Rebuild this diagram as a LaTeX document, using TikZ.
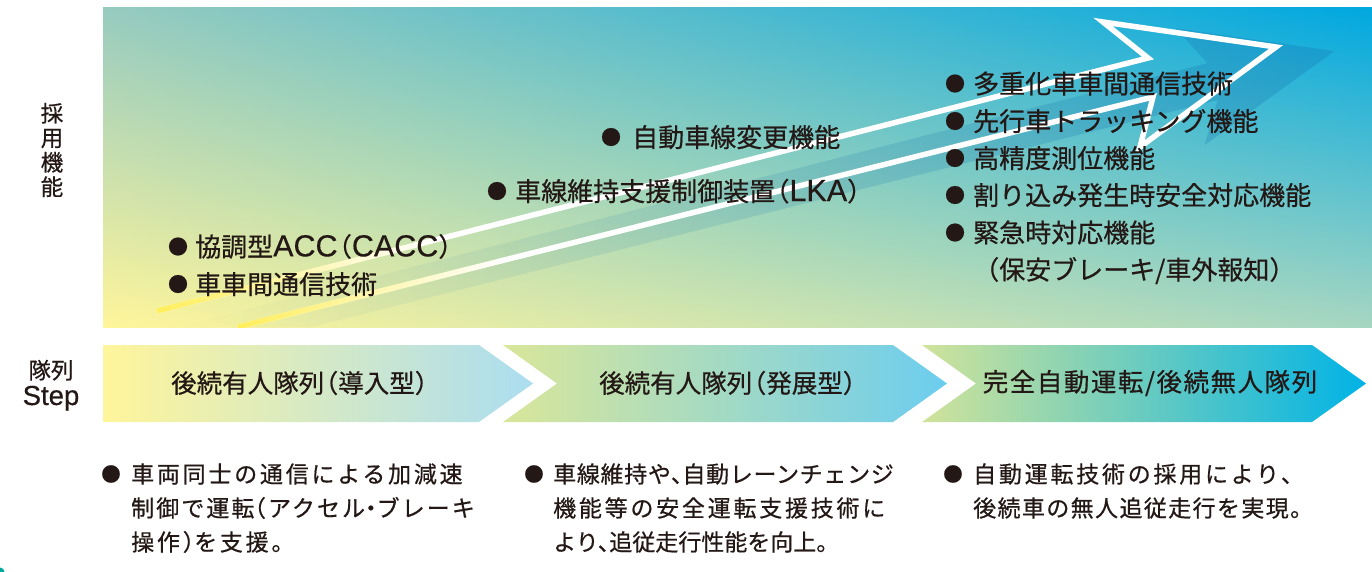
\documentclass[tikz,border=0pt]{standalone}
\usepackage{fontspec}
\setmainfont{Noto Sans CJK JP}[FakeBold=0.6]
\newfontfamily\jpsp{Noto Sans CJK JP}[LetterSpace=12,FakeBold=0.6]
\newfontfamily\jpspm{Noto Sans CJK JP}[LetterSpace=9,FakeBold=0.6]
\newfontfamily\jpspb{Noto Sans CJK JP}[LetterSpace=6,FakeBold=0.6]
\newfontfamily\jpspc{Noto Sans CJK JP}[LetterSpace=3,FakeBold=0.6]
\newfontfamily\stepfont{Liberation Sans}[FakeBold=0.4]
\usetikzlibrary{shadings,fadings}
\newcommand\hlp{\kern-.45em（}
\newcommand\hrp{）\kern-.45em}
\newcommand\hcm{、\kern-.5em}
\newcommand\hdot{\kern-.25em・\kern-.25em}
\newcommand\lat[1]{{\fontsize{30.5}{30.5}\stepfont #1}}
\definecolor{ink}{HTML}{231815}
\definecolor{panelUL}{HTML}{97CBBF}
\definecolor{panelUR}{HTML}{00A8E0}
\definecolor{panelLL}{HTML}{FFF59B}
\definecolor{panelLR}{HTML}{A6D6C2}
\definecolor{cAL}{HTML}{FFF59B}
\definecolor{cAR}{HTML}{ABDDF0}
\definecolor{cBL}{HTML}{D9E69A}
\definecolor{cBR}{HTML}{6CCDEF}
\definecolor{cCL}{HTML}{D0E39A}
\definecolor{cCR}{HTML}{00B3E6}
\definecolor{shadowc}{HTML}{1675AE}
\definecolor{yel}{HTML}{FFEF5A}
\definecolor{tealmark}{HTML}{00A99D}
\tikzfading[name=yfade, left color=transparent!0, right color=transparent!100]
\tikzfading[name=sfade, left color=transparent!100, right color=transparent!0]
\tikzset{
  item/.style={anchor=base west, inner sep=0pt, text=ink, font=\fontsize{26}{30}\selectfont},
  dot/.style={inner sep=0pt, text=ink, font=\fontsize{20}{20}\selectfont},
  smalldot/.style={inner sep=0pt, text=ink, font=\fontsize{19.5}{19.5}\selectfont},
  desc/.style={anchor=base west, inner sep=0pt, text=ink, font=\fontsize{23}{23}\jpsp},
  chevlabel/.style={inner sep=0pt, text=ink, font=\fontsize{25.5}{25.5}\selectfont},
  sidelabel/.style={inner sep=0pt, text=ink, font=\fontsize{22.5}{24.5}\selectfont, align=center},
  outline/.style={white, line width=5.5pt, line join=miter}
}
\begin{document}
\begin{tikzpicture}[x=1pt,y=-1pt]
\useasboundingbox (0,0) rectangle (1372,572);
% main panel
\shade[upper left=panelUL, upper right=panelUR, lower left=panelLL, lower right=panelLR] (103,8) rectangle (1372,327);
\begin{scope}
\clip (103,8) rectangle (1372,327);
% shadow arrow
\fill[shadowc, fill opacity=0.3, path fading=sfade] (179,327) -- (1210,63) -- (1178,28) -- (1337,51) -- (1207,145) -- (1220,100) -- (312,327) -- cycle;
% white outline arrow
\draw[outline] (157,311) -- (1148,58) -- (1103,22) -- (1276,47) -- (1140,147) -- (1153,97) -- (238,327);
\draw[yel, line width=5.5pt, path fading=yfade] (157,311) -- (430,241.3);
\draw[yel, line width=5.5pt, path fading=yfade] (238,327) -- (500,261.1);
\end{scope}
% chevrons
\shade[left color=cAL, right color=cAR] (103,345) -- (479,345) -- (533,383.5) -- (479,422) -- (103,422) -- cycle;
\shade[left color=cBL, right color=cBR] (503,345) -- (893,345) -- (947,383.5) -- (893,422) -- (503,422) -- (557,383.5) -- cycle;
\shade[left color=cCL, right color=cCR] (922,345) -- (1312,345) -- (1366,383.5) -- (1312,422) -- (922,422) -- (976,383.5) -- cycle;
\fill[tealmark] (0,572) circle (4.5);
% side labels
\node[sidelabel] (adopt) at (52,150) {採\\用\\機\\能};
\node[sidelabel, anchor=base] (tairetsu) at (51,378.7) {隊列};
\node[inner sep=0pt, text=ink, font=\fontsize{27.5}{27.5}\stepfont, anchor=base] (step) at (51,405) {Step};
% top items
\node[dot] (ba1) at (178,246.5) {●};
\node[item] (ta1) at (195,256.4) {協調型\lat{ACC}\hlp\lat{CACC}\hrp};
\node[dot] (ba2) at (178,284) {●};
\node[item] (ta2) at (195,294) {車車間通信技術};
\node[dot] (bb1) at (497,191) {●};
\node[item] (tb1) at (515,201) {車線維持支援制御装置\hlp\lat{LKA}\hrp};
\node[dot] (bc1) at (611,137) {●};
\node[item] (tc1) at (632,147) {自動車線変更機能};
\node[dot] (bd1) at (955,83.5) {●};
\node[item] (td1) at (973,93.4) {多重化車車間通信技術};
\node[dot] (bd2) at (955,121) {●};
\node[item] (td2) at (973,131) {先行車トラッキング機能};
\node[dot] (bd3) at (955,158) {●};
\node[item] (td3) at (973,168) {高精度測位機能};
\node[dot] (bd4) at (955,195) {●};
\node[item] (td4) at (973,205) {割り込み発生時安全対応機能};
\node[dot] (bd5) at (955,232.5) {●};
\node[item] (td5) at (973,242.4) {緊急時対応機能};
\node[item] (td6) at (973,279.4) {（保安ブレーキ/車外報知）};
% chevron labels
\node[chevlabel] (s1) at (300,383) {後続有人隊列\hlp 導入型\hrp};
\node[chevlabel] (s2) at (728,383) {後続有人隊列\hlp 発展型\hrp};
\node[chevlabel, font=\fontsize{25.5}{25.5}\jpspb] (s3) at (1150,383) {完全自動運転/後続無人隊列};
% descriptions
\node[smalldot] (bx1) at (111,474) {●};
\node[desc] (x1a) at (131,482.7) {車両同士の通信による加減速};
\node[desc, font=\fontsize{23}{23}\jpspm] (x1b) at (131,516.7) {制御で運転\kern-.5em（アクセル\hdot ブレーキ};
\node[desc] (x1c) at (131,550.7) {操作）\kern-.5em を支援。};
\node[smalldot] (bx2) at (534,474) {●};
\node[desc, font=\fontsize{23}{23}\jpspc] (x2a) at (553,482.7) {車線維持や\hcm 自動レーンチェンジ};
\node[desc] (x2b) at (553,516.7) {機能等の安全運転支援技術に};
\node[desc, font=\fontsize{23}{23}\selectfont] (x2c) at (553,550.7) {より\hcm 追従走行性能を向上。};
\node[smalldot] (bx3) at (953,474) {●};
\node[desc] (x3a) at (973,482.7) {自動運転技術の採用により、};
\node[desc, font=\fontsize{23}{23}\jpspb] (x3b) at (973,516.7) {後続車の無人追従走行を実現。};
\end{tikzpicture}
\end{document}
